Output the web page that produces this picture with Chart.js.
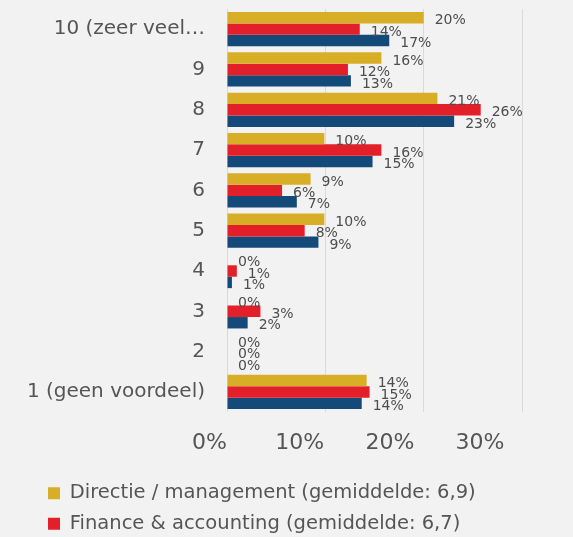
<!DOCTYPE html>
<html>
<head>
<meta charset="utf-8">
<script src="https://cdn.jsdelivr.net/npm/chart.js@4"></script>
<style>
  html, body { margin: 0; padding: 0; background: #f2f2f2; overflow: hidden; }
  #wrap { width: 573px; height: 574px; position: relative; }
</style>
</head>
<body>
<div id="wrap"><canvas id="chart"></canvas></div>
<script>
const categories = ["10 (zeer veel…", "9", "8", "7", "6", "5", "4", "3", "2", "1 (geen voordeel)"];
const seriesNames = [
  "Directie / management (gemiddelde: 6,9)",
  "Finance & accounting (gemiddelde: 6,7)",
  "Overig (gemiddelde: 6,8)"
];
const directie = [20.0, 15.7, 21.4, 9.9, 8.5, 9.9, 0, 0, 0, 14.2];
const finance = [13.5, 12.3, 25.8, 15.7, 5.6, 7.9, 1.0, 3.4, 0, 14.5];
const overig = [16.5, 12.6, 23.1, 14.8, 7.1, 9.3, 0.5, 2.1, 0, 13.7];
const xTicks = [0, 10, 20, 30];

const textColor = "#555555";
const fontFamily = "'DejaVu Sans', sans-serif";

// value labels just past the end of each bar
const barLabels = {
  id: "barLabels",
  afterLayout(chart) {
    // legend is indented further than the axis labels
    chart.legend.left = 37;
  },
  afterDatasetsDraw(chart) {
    const ctx = chart.ctx;
    ctx.save();
    ctx.font = "14px " + fontFamily;
    ctx.fillStyle = "#4d4d4d";
    ctx.textAlign = "left";
    ctx.textBaseline = "middle";
    chart.data.datasets.forEach((ds, i) => {
      const meta = chart.getDatasetMeta(i);
      meta.data.forEach((bar, j) => {
        ctx.fillText(Math.round(ds.data[j]) + "%", bar.x + 11, bar.y + 3);
      });
    });
    ctx.restore();
  }
};

new Chart(document.getElementById("chart"), {
  type: "bar",
  data: {
    labels: categories,
    datasets: [
      { label: seriesNames[0], data: directie, backgroundColor: "#d9ae27" },
      { label: seriesNames[1], data: finance, backgroundColor: "#e3202a" },
      { label: seriesNames[2], data: overig, backgroundColor: "#134a7a" }
    ]
  },
  options: {
    indexAxis: "y",
    responsive: true,
    maintainAspectRatio: false,
    animation: false,
    layout: { padding: { left: 10, right: 51, top: 9, bottom: 0 } },
    datasets: { bar: { barPercentage: 1, categoryPercentage: 0.85 } },
    scales: {
      x: {
        min: 0, max: 30,
        ticks: { display: false, stepSize: 10 },
        grid: { color: "#d9d9d9", drawTicks: false },
        border: { display: false }
      },
      // tick labels sit on their own, narrower scale, as in the original picture
      x2: {
        position: "bottom",
        min: 1.94, max: 34.65,
        afterBuildTicks: (scale) => { scale.ticks = xTicks.map(v => ({ value: v })); },
        afterFit: (scale) => { scale.height += 6; },
        ticks: {
          padding: 10,
          color: textColor,
          font: { family: fontFamily, size: 22 },
          callback: (v) => v + "%"
        },
        grid: { display: false },
        border: { display: false }
      },
      y: {
        afterFit: (scale) => {
          scale.width = 217;
          scale.paddingTop = 0;
          scale.paddingBottom = 0;
        },
        ticks: { padding: 14, color: textColor, font: { family: fontFamily, size: 20 } },
        grid: { display: false },
        border: { display: false }
      }
    },
    plugins: {
      legend: {
        position: "bottom",
        align: "start",
        labels: {
          boxWidth: 12,
          boxHeight: 12,
          padding: 11,
          color: textColor,
          font: { family: fontFamily, size: 19.5 }
        }
      },
      tooltip: { enabled: false }
    }
  },
  plugins: [barLabels]
});
</script>
</body>
</html>
